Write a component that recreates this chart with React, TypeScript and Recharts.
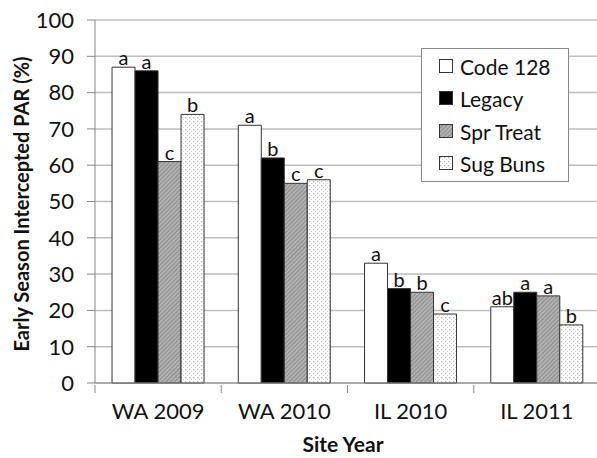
import { Bar, BarChart, CartesianGrid, Label, LabelList, Legend, XAxis, YAxis } from "recharts"

const sites = ["WA 2009", "WA 2010", "IL 2010", "IL 2011"]
const code128 = [87, 71, 33, 21]
const legacy = [86, 62, 26, 25]
const sprTreat = [61, 55, 25, 24]
const sugBuns = [74, 56, 19, 16]

const code128Letters = ["a", "a", "a", "ab"]
const legacyLetters = ["a", "b", "b", "a"]
const sprTreatLetters = ["c", "c", "b", "a"]
const sugBunsLetters = ["b", "c", "c", "b"]

const yTicks = [0, 10, 20, 30, 40, 50, 60, 70, 80, 90, 100]

const data = sites.map((site, i) => ({
  site,
  code128: code128[i],
  legacy: legacy[i],
  sprTreat: sprTreat[i],
  sugBuns: sugBuns[i],
}))

const series = [
  { key: "code128", name: "Code 128", fill: "#ffffff", letters: code128Letters },
  { key: "legacy", name: "Legacy", fill: "#000000", letters: legacyLetters },
  { key: "sprTreat", name: "Spr Treat", fill: "url(#hatch)", letters: sprTreatLetters },
  { key: "sugBuns", name: "Sug Buns", fill: "url(#dots)", letters: sugBunsLetters },
]

const CHART_W = 605
const CHART_H = 458
const Y_W = 95
const X_H = 75
const RIGHT = 5
const FONT = "Lato, 'Noto Sans', sans-serif"
const INK = "#111"
const halfBand = (CHART_W - Y_W - RIGHT) / sites.length / 2

const SiteTick = ({ x, y, payload }: any) => (
  <g>
    <line x1={x - halfBand} y1={y} x2={x - halfBand} y2={y + 8} stroke="#888" />
    <text x={x} y={y + 34} textAnchor="middle" fontSize={22} fill={INK} fontFamily={FONT}>
      {payload.value}
    </text>
  </g>
)

const letterLabel = (letters: string[]) => (props: any) => {
  const { x, y, width, index } = props
  return (
    <text x={x + width / 2} y={y - 2} textAnchor="middle" fontSize={20} fill={INK} fontFamily={FONT}>
      {letters[index]}
    </text>
  )
}

const LegendBox = () => (
  <div
    style={{
      width: 146,
      height: 131,
      border: "1px solid #888",
      background: "#fff",
      fontFamily: FONT,
      fontSize: 21,
      color: INK,
      boxSizing: "content-box",
      paddingTop: 1,
    }}
  >
    {series.map((s) => (
      <div key={s.key} style={{ display: "flex", alignItems: "center", height: 32.5, paddingLeft: 17 }}>
        <svg width={15} height={15} style={{ marginRight: 6 }}>
          <rect x={0.5} y={0.5} width={13} height={13} fill={s.fill} stroke="#333" />
        </svg>
        <span>{s.name}</span>
      </div>
    ))}
  </div>
)

export default function App() {
  return (
    <div style={{ position: "absolute", left: 0, top: 0, width: 597, height: 458, overflow: "hidden", background: "#fff" }}>
      <BarChart
        width={CHART_W}
        height={CHART_H}
        data={data}
        margin={{ top: 20, right: RIGHT, left: 0, bottom: 0 }}
        barCategoryGap="13.5%"
        barGap={0}
      >
        <defs>
          <pattern id="hatch" width={3} height={3} patternUnits="userSpaceOnUse" patternTransform="rotate(45)">
            <rect width={3} height={3} fill="#b0b0b0" />
            <line x1={0} y1={0} x2={0} y2={3} stroke="#777" strokeWidth={1.2} />
          </pattern>
          <pattern id="dots" width={4} height={4} patternUnits="userSpaceOnUse">
            <rect width={4} height={4} fill="#ffffff" />
            <rect x={1} y={1} width={1.3} height={1.3} fill="#b8b8b8" />
            <rect x={3} y={3} width={1.3} height={1.3} fill="#cfcfcf" />
          </pattern>
        </defs>
        <CartesianGrid vertical={false} stroke="#bdbdbd" strokeWidth={1.5} />
        <XAxis
          dataKey="site"
          height={X_H}
          tickLine={false}
          tickSize={0}
          tick={<SiteTick />}
          stroke="#888"
          interval={0}
        >
          <Label
            content={() => (
              <text x={343} y={452} textAnchor="middle" fontSize={21} fontWeight="bold" fill={INK} fontFamily={FONT}>
                Site Year
              </text>
            )}
          />
        </XAxis>
        <YAxis
          width={Y_W}
          domain={[0, 100]}
          ticks={yTicks}
          interval={0}
          tickSize={8}
          tickMargin={13}
          stroke="#888"
          tick={{ fontSize: 22, fill: INK, fontFamily: FONT }}
        >
          <Label
            content={() => (
              <text
                x={0}
                y={0}
                transform="translate(29 204) rotate(-90)"
                textAnchor="middle"
                fontSize={20}
                fontWeight="bold"
                fill={INK}
                fontFamily={FONT}
              >
                Early Season Intercepted PAR (%)
              </text>
            )}
          />
        </YAxis>
        <Legend
          layout="vertical"
          align="center"
          verticalAlign="middle"
          content={<LegendBox />}
          wrapperStyle={{ position: "absolute", left: 421, top: 48, width: 148, height: 133 }}
        />
        {series.map((s) => (
          <Bar key={s.key} dataKey={s.key} name={s.name} fill={s.fill} stroke="#333" strokeWidth={1} isAnimationActive={false}>
            <LabelList dataKey={s.key} content={letterLabel(s.letters)} />
          </Bar>
        ))}
      </BarChart>
    </div>
  )
}
